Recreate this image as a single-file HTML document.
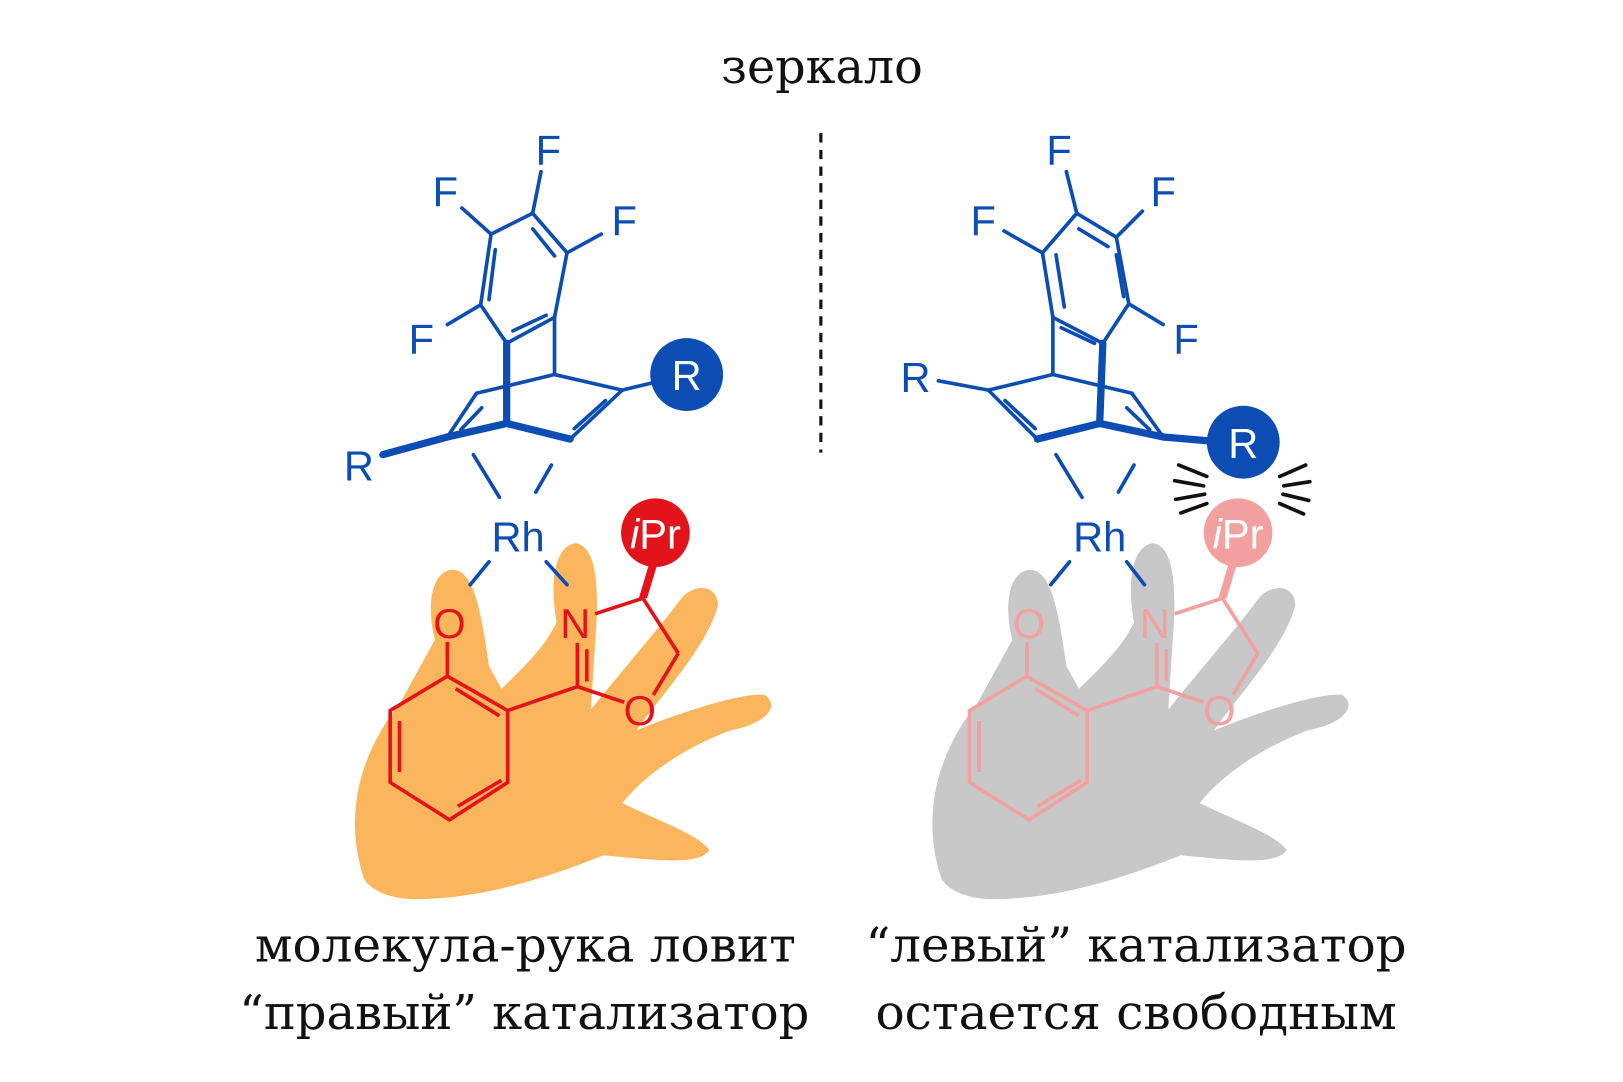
<!DOCTYPE html>
<html><head><meta charset="utf-8"><style>
html,body{margin:0;padding:0;background:#fff}
svg{display:block}
.t{font-family:"DejaVu Serif","Liberation Serif",serif;font-size:46px;fill:#111;text-anchor:middle}
.s{font-family:"Liberation Sans",sans-serif;font-size:40px}
</style></head><body>
<svg width="1623" height="1082" viewBox="0 0 1560 1040" xmlns="http://www.w3.org/2000/svg">
<defs>
<path id="hand" d="M350,845 C330,785 345,725 385,675 L418,615 C408,575 418,545 438,548 C458,552 464,600 470,640 L482,662 C505,640 525,620 535,598 C528,560 533,525 553,522 C575,525 576,570 572,618 L568,682 C600,642 635,602 655,575 C668,560 690,562 690,582 C680,622 632,672 612,702 C660,682 718,665 735,668 C752,680 732,697 702,702 C662,717 622,742 598,772 C640,792 670,802 682,817 C672,832 632,827 580,822 C530,842 470,862 410,864 C385,866 360,860 350,845 Z"/>
</defs>
<text class="t" x="790" y="80" font-size="48" textLength="194" lengthAdjust="spacingAndGlyphs">зеркало</text>
<line x1="789" y1="128" x2="789" y2="435" stroke="#111" stroke-width="3" stroke-dasharray="9,7"/>

<!-- LEFT -->
<use href="#hand" fill="#fbb55d"/>
<g stroke="#0b4db3" stroke-width="3.5" fill="none" stroke-linecap="round">
<polygon points="512,205 545,243 533,305 487,330 462,293 472,225"/>
<line x1="476" y1="240" x2="470" y2="288"/><line x1="512" y1="220" x2="533" y2="246"/><line x1="493" y1="318" x2="525" y2="303"/>
<line x1="512" y1="205" x2="520" y2="165"/><line x1="472" y1="225" x2="444" y2="200"/><line x1="545" y1="243" x2="578" y2="225"/><line x1="462" y1="293" x2="430" y2="312"/>
<line x1="533" y1="305" x2="533" y2="360"/>
<line x1="533" y1="360" x2="598" y2="375"/><line x1="533" y1="360" x2="458" y2="378"/>
<line x1="598" y1="375" x2="548" y2="422"/><line x1="582" y1="385" x2="552" y2="412"/>
<line x1="598" y1="375" x2="627" y2="368"/>
<line x1="430" y1="420" x2="458" y2="378"/><line x1="443" y1="413" x2="463" y2="392"/>
<line x1="455" y1="437" x2="480" y2="478"/><line x1="530" y1="447" x2="515" y2="473"/>
<line x1="470" y1="540" x2="452" y2="562"/><line x1="525" y1="540" x2="545" y2="562"/>
</g>
<g stroke="#0b4db3" stroke-width="7" fill="none" stroke-linecap="round">
<line x1="487" y1="330" x2="487" y2="407"/><line x1="487" y1="407" x2="548" y2="422"/><line x1="487" y1="407" x2="430" y2="420"/><line x1="430" y1="420" x2="368" y2="437"/>
</g>
<g fill="#0b4db3" class="s"><text x="527" y="158" text-anchor="middle">F</text><text x="428" y="198" text-anchor="middle">F</text><text x="600" y="226" text-anchor="middle">F</text><text x="405" y="340" text-anchor="middle">F</text><text x="345" y="462" text-anchor="middle">R</text><text x="498" y="530" text-anchor="middle">Rh</text></g>
<circle cx="660" cy="360" r="35" fill="#0b4db3"/><text class="s" x="660" y="375" fill="#fff" text-anchor="middle">R</text>
<g stroke="#e3131b" stroke-width="3.5" fill="none">
<polygon points="430,650 488,683 488,752 432,788 375,752 375,683"/>
<line x1="384" y1="693" x2="384" y2="742"/><line x1="440" y1="775" x2="482" y2="750"/><line x1="438" y1="662" x2="480" y2="688"/>
<line x1="430" y1="650" x2="430" y2="617"/>
<line x1="488" y1="683" x2="555" y2="660"/>
<line x1="555" y1="660" x2="555" y2="618"/><line x1="564" y1="655" x2="564" y2="624"/>
<line x1="555" y1="660" x2="600" y2="675"/><line x1="628" y1="668" x2="652" y2="628"/><line x1="652" y1="628" x2="618" y2="575"/><line x1="618" y1="575" x2="572" y2="590"/>
</g>
<polygon points="614,575 622,575 634,535 626,535" fill="#e3131b"/>
<circle cx="630" cy="512" r="33" fill="#e3131b"/>
<g class="s" fill="#e3131b" text-anchor="middle"><text x="432" y="613">O</text><text x="553" y="613">N</text><text x="615" y="697">O</text></g>
<text class="s" x="630" y="527" fill="#fff" text-anchor="middle" font-size="36"><tspan font-style="italic">i</tspan>Pr</text>

<!-- RIGHT -->
<use href="#hand" fill="#c8c8c8" transform="translate(555,0)"/>
<g stroke="#f3a0a0" stroke-width="3.5" fill="none" transform="translate(557,0)">
<polygon points="430,650 488,683 488,752 432,788 375,752 375,683"/>
<line x1="384" y1="693" x2="384" y2="742"/><line x1="440" y1="775" x2="482" y2="750"/><line x1="438" y1="662" x2="480" y2="688"/>
<line x1="430" y1="650" x2="430" y2="617"/>
<line x1="488" y1="683" x2="555" y2="660"/>
<line x1="555" y1="660" x2="555" y2="618"/><line x1="564" y1="655" x2="564" y2="624"/>
<line x1="555" y1="660" x2="600" y2="675"/><line x1="628" y1="668" x2="652" y2="628"/><line x1="652" y1="628" x2="618" y2="575"/><line x1="618" y1="575" x2="572" y2="590"/>
</g>
<polygon points="1171,575 1179,575 1191,535 1183,535" fill="#f3a0a0"/>
<circle cx="1190" cy="512" r="33" fill="#f3a0a0"/>
<g class="s" fill="#f3a0a0" text-anchor="middle"><text x="989" y="613">O</text><text x="1110" y="613">N</text><text x="1172" y="697">O</text></g>
<text class="s" x="1190" y="527" fill="#fff" text-anchor="middle" font-size="36"><tspan font-style="italic">i</tspan>Pr</text>
<g stroke="#0b4db3" stroke-width="3.5" fill="none" stroke-linecap="round">
<polygon points="1035,205 1073,228 1085,292 1060,330 1012,305 1002,243"/>
<line x1="1015" y1="245" x2="1023" y2="295"/><line x1="1037" y1="220" x2="1065" y2="237"/><line x1="1073" y1="245" x2="1080" y2="285"/><line x1="1020" y1="315" x2="1052" y2="330"/>
<line x1="1035" y1="205" x2="1025" y2="165"/><line x1="1002" y1="243" x2="965" y2="222"/><line x1="1073" y1="228" x2="1098" y2="203"/><line x1="1085" y1="292" x2="1118" y2="312"/>
<line x1="1012" y1="305" x2="1012" y2="360"/>
<line x1="1012" y1="360" x2="950" y2="375"/><line x1="1012" y1="360" x2="1088" y2="378"/>
<line x1="950" y1="375" x2="997" y2="422"/><line x1="966" y1="385" x2="995" y2="412"/>
<line x1="950" y1="375" x2="902" y2="366"/>
<line x1="1118" y1="420" x2="1088" y2="378"/><line x1="1105" y1="413" x2="1083" y2="392"/>
<line x1="1015" y1="437" x2="1040" y2="478"/><line x1="1090" y1="447" x2="1075" y2="473"/>
<line x1="1028" y1="540" x2="1010" y2="562"/><line x1="1083" y1="540" x2="1100" y2="562"/>
</g>
<g stroke="#0b4db3" stroke-width="7" fill="none" stroke-linecap="round">
<line x1="1060" y1="330" x2="1057" y2="407"/><line x1="1057" y1="407" x2="997" y2="422"/><line x1="1057" y1="407" x2="1118" y2="420"/><line x1="1118" y1="420" x2="1165" y2="424"/>
</g>
<g fill="#0b4db3" class="s" text-anchor="middle"><text x="1018" y="158">F</text><text x="1118" y="198">F</text><text x="945" y="226">F</text><text x="1140" y="340">F</text><text x="880" y="377">R</text><text x="1057" y="530">Rh</text></g>
<circle cx="1195" cy="425" r="35" fill="#0b4db3"/><text class="s" x="1195" y="440" fill="#fff" text-anchor="middle">R</text>
<g stroke="#111" stroke-width="3.5" stroke-linecap="round">
<line x1="1133" y1="447" x2="1160" y2="458"/><line x1="1129" y1="462" x2="1157" y2="467"/><line x1="1130" y1="480" x2="1158" y2="475"/><line x1="1135" y1="493" x2="1160" y2="484"/>
<line x1="1230" y1="458" x2="1255" y2="447"/><line x1="1234" y1="467" x2="1259" y2="463"/><line x1="1233" y1="475" x2="1258" y2="481"/><line x1="1230" y1="484" x2="1253" y2="494"/>
</g>

<text class="t" x="505" y="924" textLength="520" lengthAdjust="spacingAndGlyphs">молекула-рука ловит</text>
<text class="t" x="504" y="989" textLength="548" lengthAdjust="spacingAndGlyphs">“правый” катализатор</text>
<text class="t" x="1092" y="924" textLength="520" lengthAdjust="spacingAndGlyphs">“левый” катализатор</text>
<text class="t" x="1092" y="989" textLength="501" lengthAdjust="spacingAndGlyphs">остается свободным</text>
</svg>
</body></html>
